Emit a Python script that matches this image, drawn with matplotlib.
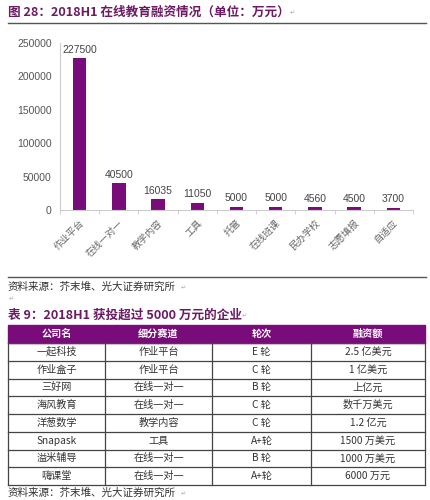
import matplotlib
matplotlib.use("Agg")
import matplotlib.pyplot as plt
from matplotlib.patches import Rectangle

plt.rcParams['font.family'] = ['Noto Sans CJK SC', 'DejaVu Sans']

# 图 28 数据
categories = ['作业平台', '在线一对一', '教学内容', '工具', '托管', '在线班课', '民办学校', '志愿填报', '自适应']
amounts = [227500, 40500, 16035, 11050, 5000, 5000, 4560, 4500, 3700]
y_ticks = [0, 50000, 100000, 150000, 200000, 250000]

# 表 9 数据
header = ['公司名', '细分赛道', '轮次', '融资额']
companies = ['一起科技', '作业盒子', '三好网', '海风教育', '洋葱数学', 'Snapask', '溢米辅导', '嗨课堂']
tracks = ['作业平台', '作业平台', '在线一对一', '在线一对一', '教学内容', '工具', '在线一对一', '在线一对一']
rounds = ['E 轮', 'C 轮', 'B 轮', 'C 轮', 'C 轮', 'A+轮', 'B 轮', 'A+轮']
money = ['2.5 亿美元', '1 亿美元', '上亿元', '数千万美元', '1.2 亿元', '1500 万美元', '1000 万美元', '6000 万元']

purple = '#7a0b7a'
title_col = '#6b1a63'
W, H = 431, 500

fig = plt.figure(figsize=(W / 100, H / 100), dpi=100)

# 整页画布（像素坐标）
bg = fig.add_axes([0, 0, 1, 1])
bg.set_xlim(0, W)
bg.set_ylim(H, 0)
bg.axis('off')

def mark(x, y):
    bg.text(x, y, '↵', fontsize=4.5, color='#aaaaaa', va='center', family=['DejaVu Sans'])

bg.text(8, 12, '图 28：2018H1 在线教育融资情况（单位：万元）', fontsize=9.1, fontweight='bold',
        color=title_col, va='center')
mark(290, 13)
bg.plot([8, 426], [22.5, 22.5], color='#555555', lw=1)
bg.plot([8, 426], [277, 277], color='#555555', lw=1)

bg.text(8, 287, '资料来源：芥末堆、光大证券研究所', fontsize=7.6, color='#333333', va='center')
mark(181, 288)
mark(9, 299)
bg.text(8, 315, '表 9：2018H1 获投超过 5000 万元的企业', fontsize=9.1, fontweight='bold',
        color=title_col, va='center')
mark(242, 316)

# 表格
col_x = [8, 105, 212, 311, 425]
top, head_h, row_h = 325, 18, 17.75
bg.add_patch(Rectangle((col_x[0], top), col_x[-1] - col_x[0], head_h, color=purple, zorder=1))
for j, h in enumerate(header):
    cx = (col_x[j] + col_x[j + 1]) / 2
    bg.text(cx, top + head_h / 2, h, fontsize=7.3, fontweight='bold', color='white',
            ha='center', va='center', zorder=3)

rows = list(zip(companies, tracks, rounds, money))
y0 = top + head_h
for i, row in enumerate(rows):
    yc = y0 + row_h * (i + 0.5)
    for j, val in enumerate(row):
        cx = (col_x[j] + col_x[j + 1]) / 2
        bg.text(cx, yc, val, fontsize=7.3, color='#333333', ha='center', va='center')
    bg.plot([col_x[0], col_x[-1]], [y0 + row_h * (i + 1)] * 2, color='#444444', lw=0.9)
bottom = y0 + row_h * len(rows)
for x in col_x:
    bg.plot([x, x], [y0, bottom], color='#444444', lw=0.9)
bg.plot([col_x[0], col_x[-1]], [y0, y0], color='#444444', lw=0.9)

bg.text(8, 493, '资料来源：芥末堆、光大证券研究所', fontsize=7.6, color='#333333', va='center')
mark(181, 494)

# 柱状图
ax = fig.add_axes([60 / W, 1 - 210 / H, 353 / W, 167 / H])
xs = range(len(categories))
ax.bar(xs, amounts, width=0.34, color=purple)
for x, v in zip(xs, amounts):
    ax.text(x, v + 5000, str(v), ha='center', va='bottom', fontsize=7.5, color='#444444',
            family=['Liberation Sans'])
ax.set_ylim(0, 250000)
ax.set_xlim(-0.5, len(categories) - 0.5)
ax.set_yticks(y_ticks)
ax.set_yticklabels([str(v) for v in y_ticks], fontsize=7.5, color='#555555', family=['Liberation Sans'])
ax.set_xticks(list(xs))
ax.set_xticklabels(categories, rotation=45, ha='right', rotation_mode='anchor',
                   fontsize=6.8, color='#666666')
ax.set_xticks([i + 0.5 for i in range(-1, len(categories))], minor=True)
ax.tick_params(axis='x', which='major', length=0, pad=6)
ax.tick_params(axis='x', which='minor', length=3, color='#cccccc', direction='out')
ax.tick_params(axis='y', length=0, pad=6)
for s in ['top', 'right']:
    ax.spines[s].set_visible(False)
ax.spines['left'].set_color('#cccccc')
ax.spines['bottom'].set_color('#cccccc')

fig.savefig('out.png', dpi=100)
